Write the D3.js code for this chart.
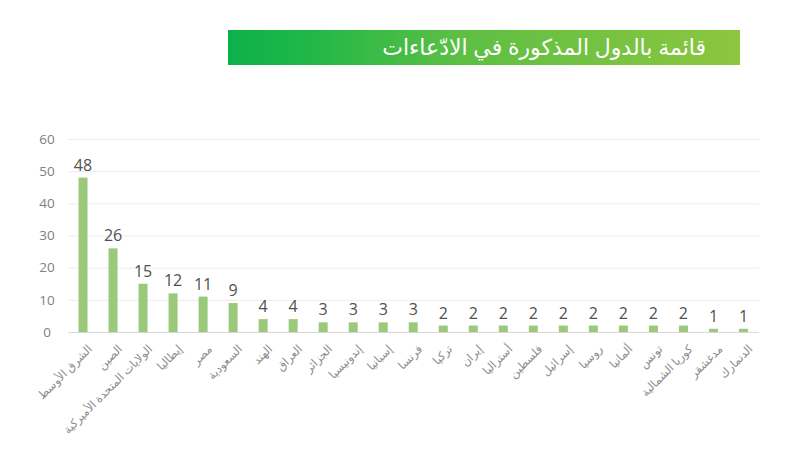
<!DOCTYPE html>
<html><head><meta charset="utf-8">
<script src="https://cdn.jsdelivr.net/npm/d3@7"></script>
<style>body{margin:0;background:#fff;}svg{display:block;}</style>
</head><body>
<svg id="c" width="793" height="476"></svg>
<script>
const title = "قائمة بالدول المذكورة في الادّعاءات";
const categories = ["الشرق الأوسط","الصين","الولايات المتحدة الأميركية","إيطاليا","مصر","السعودية","الهند","العراق","الجزائر","إندونيسيا","إسبانيا","فرنسا","تركيا","إيران","أستراليا","فلسطين","إسرائيل","روسيا","ألمانيا","تونس","كوريا الشمالية","مدغشقر","الدنمارك"];
const values = [48,26,15,12,11,9,4,4,3,3,3,3,2,2,2,2,2,2,2,2,2,1,1];
const yTicks = [0,10,20,30,40,50,60];

const svg = d3.select("#c");
const defs = svg.append("defs");
const g = defs.append("linearGradient").attr("id","bg").attr("x1","0").attr("x2","1");
g.append("stop").attr("offset","0").attr("stop-color","#0db14b");
g.append("stop").attr("offset","0.15").attr("stop-color","#1fb748");
g.append("stop").attr("offset","0.45").attr("stop-color","#5cbf44");
g.append("stop").attr("offset","1").attr("stop-color","#8dc63f");
svg.append("rect").attr("x",228).attr("y",30).attr("width",512).attr("height",35).attr("fill","url(#bg)");
svg.append("text").attr("x",706).attr("y",55).attr("text-anchor","end")
  .attr("fill","#fff").attr("font-family","'Noto Sans','DejaVu Sans',sans-serif").attr("font-size",22).text(title);

const x = d3.scaleBand().domain(categories).range([68,758.5]).paddingInner(0.7).paddingOuter(0.35);
const y = d3.scaleLinear().domain([0,60]).range([332,139]);

const grid = svg.append("g");
grid.selectAll("line").data(yTicks).join("line")
  .attr("x1",68).attr("x2",759).attr("y1",d=>y(d)+0.5).attr("y2",d=>y(d)+0.5)
  .attr("stroke",d=>d===0?"#d9d9d9":"#ececec").attr("stroke-width",1);

const ya = svg.append("g").attr("transform","translate(58,0)")
  .call(d3.axisLeft(y).tickValues(yTicks).tickSize(0).tickPadding(0));
ya.select(".domain").remove();
ya.selectAll("text").attr("font-family","'Open Sans',sans-serif").attr("font-size",13.5).attr("fill","#808080").attr("text-anchor","middle").attr("x",-11);

svg.append("g").selectAll("rect").data(values).join("rect")
  .attr("x",(d,i)=>x(categories[i])).attr("width",x.bandwidth())
  .attr("y",d=>y(d)).attr("height",d=>y(0)-y(d)).attr("fill","#9bc97a");

svg.append("g").selectAll("text").data(values).join("text")
  .attr("x",(d,i)=>x(categories[i])+x.bandwidth()/2).attr("y",d=>y(d)-7)
  .attr("text-anchor","middle").attr("font-family","'Open Sans',sans-serif").attr("font-size",16)
  .attr("fill","#505050").text(d=>d);

const xa = svg.append("g").attr("transform","translate(0,332)")
  .call(d3.axisBottom(x).tickSize(0).tickPadding(0));
xa.select(".domain").remove();
xa.selectAll("text").attr("font-family","'Noto Sans','DejaVu Sans',sans-serif").attr("font-size",11.5).attr("fill","#8c8c8c")
  .attr("text-anchor","end").attr("dy","0.35em").attr("y",0)
  .attr("transform","translate(7,15) rotate(-45)");
</script>
</body></html>
